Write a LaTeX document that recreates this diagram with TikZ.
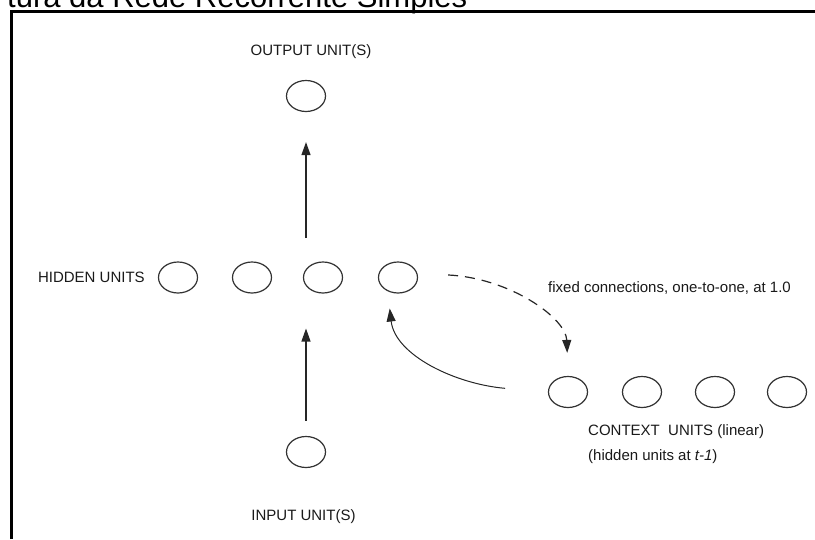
\documentclass[tikz,border=0pt]{standalone}
\usepackage{fontspec}
\setmainfont{Liberation Sans}
\usetikzlibrary{shapes.geometric,arrows.meta,positioning}
\begin{document}
\begin{tikzpicture}[x=1pt,y=-1pt,
  unit/.style={draw=black!80,line width=1.2pt,ellipse,minimum width=39pt,minimum height=31pt},
  lbl/.style={font=\fontsize{15}{18}\selectfont,text=black!90},
  arr/.style={draw=black!85,line width=1.2pt,-{Triangle[length=13pt,width=9pt]}}]
\tikzstyle{every node}+=[inner sep=0pt]
\useasboundingbox (0,0) rectangle (815,539);
\clip (0,0) rectangle (815,539);
\node[anchor=base west,font=\fontsize{31}{36}\selectfont] (title) at (7,7.5) {tura da Rede Recorrente Simples};
\draw[line width=3pt] (11.5,539) -- (11.5,11.5) -- (815,11.5);
\node[unit] (out) at (306,96) {};
\node[unit] (h1) at (178,277.5) {};
\node[unit] (h2) at (252,277.5) {};
\node[unit] (h3) at (323,277.5) {};
\node[unit] (h4) at (398,277.5) {};
\node[unit] (inp) at (306,452) {};
\node[unit] (c1) at (568,392) {};
\node[unit] (c2) at (642,392) {};
\node[unit] (c3) at (715,392) {};
\node[unit] (c4) at (787,392) {};
\coordinate (hmid) at (306,277.5);
\node[lbl,anchor=base] (outl) at (311,55) {OUTPUT UNIT(S)};
\node[lbl,left=13pt of h1] (hidl) {HIDDEN UNITS};
\node[lbl,anchor=base west] (fixl) at (548,292) {fixed connections, one-to-one, at 1.0};
\node[lbl,anchor=base west] (ctxl) at (588,435) {CONTEXT\ \ UNITS (linear)};
\node[lbl,anchor=base west] (ctxl2) at (588,460) {(hidden units at \textit{t-1})};
\node[lbl,anchor=base] (inl) at (303.5,520) {INPUT UNIT(S)};
\draw[arr,shorten <=15pt,shorten >=51pt] (inp) -- (hmid);
\draw[arr,shorten <=39.5pt,shorten >=30pt] (hmid) -- (out);
\draw[arr,dash pattern=on 10pt off 7pt,shorten <=30pt,shorten >=23pt] ([yshift=4pt]h4.east) .. controls (510,278) and (566,318) .. (c1.north);
\draw[arr,line width=1pt,shorten <=43pt,shorten >=15pt] (c1.west) .. controls (455,384) and (395,355) .. ([xshift=-10pt]h4.south);
\end{tikzpicture}
\end{document}
